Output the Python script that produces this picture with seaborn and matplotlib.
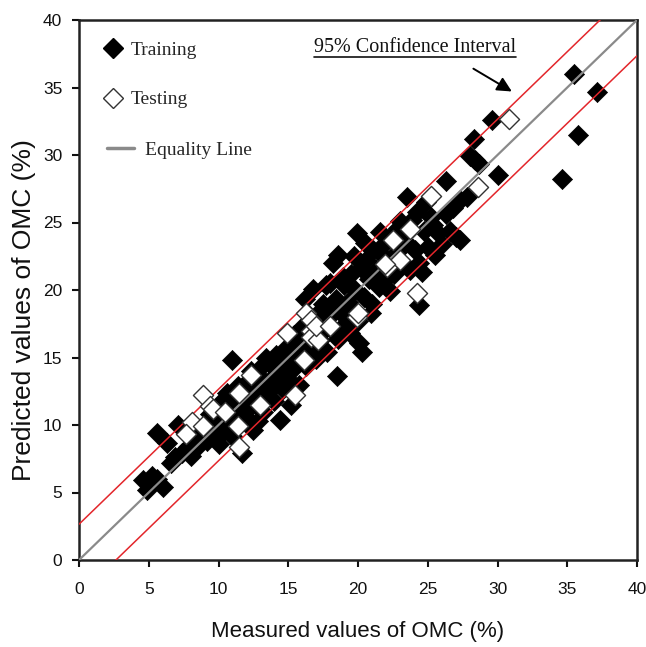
import matplotlib
matplotlib.use("Agg")
import matplotlib.pyplot as plt
from matplotlib.lines import Line2D
import seaborn as sns
import pandas as pd

sns.set_style("white")
plt.rcParams['font.family'] = ['Liberation Sans', 'DejaVu Sans']

# ---------------- data ----------------
train_measured = [
    4.6, 4.85, 5.2, 5.6, 6.0, 5.6, 6.3, 6.9, 7.1, 6.6, 7.4, 7.8, 8.0, 8.3, 8.6, 8.9, 9.2, 9.5, 9.8, 9.9,
    10.2, 10.4, 10.1, 10.7, 10.9, 11.0, 11.3, 11.2, 11.5, 11.7, 11.8, 12.0, 12.2, 12.5, 12.4, 12.7, 12.9, 13.0, 13.2, 13.3,
    13.5, 13.6, 13.8, 14.0, 14.1, 14.3, 14.4, 14.6, 14.7, 14.9, 15.0, 15.2, 15.3, 15.5, 15.6, 15.8, 15.9, 16.1, 16.2, 16.3,
    16.5, 16.6, 16.8, 16.8, 17.0, 17.2, 17.3, 17.5, 17.6, 17.8, 17.9, 18.0, 18.2, 18.2, 18.4, 18.5, 18.6, 18.6, 18.8, 19.0,
    19.1, 19.3, 19.5, 19.6, 19.8, 19.9, 20.0, 20.1, 20.2, 20.3, 20.4, 20.6, 20.8, 21.0, 21.1, 21.3, 21.5, 21.7, 21.9, 22.0,
    22.2, 22.4, 22.6, 22.8, 23.0, 23.2, 23.4, 23.5, 23.7, 23.9, 24.1, 24.4, 24.4, 24.6, 24.7, 25.0, 25.2, 25.5, 25.7, 26.0,
    26.3, 26.3, 26.6, 26.8, 27.0, 27.3, 27.3, 27.8, 28.0, 28.3, 28.4, 28.7, 29.6, 30.0, 34.6, 35.5, 35.8, 37.1,
    9.0, 9.4, 10.0, 10.6, 11.0, 11.4, 11.9, 12.3, 12.8, 13.1, 13.4, 13.9, 14.2, 14.8, 15.4, 15.1, 16.0, 16.4, 16.9, 17.4,
    17.7, 18.1, 18.9, 19.4, 19.7, 20.5, 20.9, 21.6, 22.3, 22.9, 23.6, 24.2, 24.9, 25.4,
]
train_predicted = [
    5.9, 5.2, 6.2, 6.0, 5.4, 9.4, 8.7, 7.6, 10.0, 7.2, 7.9, 8.4, 7.7, 9.1, 8.5, 9.3, 8.8, 9.6, 9.0, 10.4,
    9.4, 10.8, 11.6, 10.1, 11.3, 14.8, 10.9, 12.3, 11.7, 7.9, 13.0, 10.6, 12.1, 9.6, 13.4, 11.5, 12.7, 14.2, 11.0, 13.2,
    12.0, 14.6, 13.5, 11.8, 15.2, 13.9, 10.4, 12.7, 14.5, 15.8, 13.4, 11.5, 16.0, 14.3, 15.1, 13.0, 17.2, 15.6, 19.3, 14.4,
    16.8, 15.2, 20.1, 17.6, 14.9, 18.4, 16.3, 19.0, 17.1, 15.4, 18.0, 20.5, 22.0, 17.0, 19.3, 13.6, 22.6, 16.4, 18.3, 20.4,
    17.5, 19.1, 21.2, 18.6, 20.0, 24.2, 17.7, 16.1, 21.6, 15.4, 19.5, 22.2, 20.8, 19.0, 23.0, 21.5, 20.2, 22.6, 23.5, 20.9,
    22.0, 24.0, 21.2, 22.8, 25.1, 22.0, 23.6, 26.9, 21.5, 25.2, 23.0, 22.0, 18.9, 21.3, 24.4, 23.2, 25.4, 22.6, 24.2, 23.4,
    28.1, 25.6, 24.4, 26.1, 23.9, 26.7, 23.7, 26.9, 29.9, 31.2, 29.6, 29.3, 32.6, 28.5, 28.2, 36.0, 31.5, 34.7,
    10.0, 10.8, 8.6, 12.4, 9.2, 12.9, 11.0, 14.0, 10.3, 12.4, 15.0, 12.8, 14.7, 13.0, 16.7, 14.8, 16.4, 18.2, 16.0, 17.8,
    20.4, 18.7, 21.0, 16.8, 22.5, 23.5, 18.3, 24.3, 19.9, 24.6, 24.3, 25.8, 26.5, 24.8,
]
test_measured = [
    8.1, 8.9, 8.9, 9.4, 9.6, 11.4, 11.5, 11.5, 12.3, 15.5, 16.1, 16.3, 14.9, 16.6, 16.6, 17.1, 16.6, 17.0, 19.9, 20.0,
    22.5, 22.1, 23.0, 21.9, 23.7, 24.2, 25.2, 28.6, 30.8, 13.0, 10.5, 18.0, 7.7,
]
test_predicted = [
    10.2, 9.9, 12.2, 11.4, 11.2, 9.9, 8.4, 12.4, 13.7, 12.2, 14.8, 18.3, 16.8, 17.0, 16.5, 16.3, 17.8, 17.3, 18.0, 18.3,
    23.7, 21.7, 22.2, 21.9, 24.5, 19.8, 27.0, 27.6, 32.7, 11.5, 11.0, 17.3, 9.3,
]
axis_limits = [0, 40]
ticks = [0, 5, 10, 15, 20, 25, 30, 35, 40]
ci_half_width = 2.65
arrow_tail = (28.1, 36.5)
arrow_head = (31.2, 34.6)

train_df = pd.DataFrame({"measured": train_measured, "predicted": train_predicted})
test_df = pd.DataFrame({"measured": test_measured, "predicted": test_predicted})

# ---------------- figure ----------------
W, H = 646, 647
fig = plt.figure(figsize=(W / 100, H / 100), dpi=100)
ax = fig.add_axes([79 / W, 1 - 560 / H, 558 / W, 540 / H])

# equality and confidence lines
ax.plot(axis_limits, axis_limits, color="#8a8a8a", lw=1.6, zorder=4)
ax.plot([axis_limits[0], axis_limits[1]],
        [axis_limits[0] + ci_half_width, axis_limits[1] + ci_half_width],
        color="#e3262b", lw=1.1, zorder=4)
ax.plot([axis_limits[0], axis_limits[1]],
        [axis_limits[0] - ci_half_width, axis_limits[1] - ci_half_width],
        color="#e3262b", lw=1.1, zorder=4)

sns.scatterplot(data=train_df, x="measured", y="predicted", marker="D", s=105,
                color="black", edgecolor="black", linewidth=0.5, ax=ax, zorder=3,
                legend=False)
sns.scatterplot(data=test_df, x="measured", y="predicted", marker="D", s=105,
                facecolor="white", edgecolor="#333333", linewidth=1.0, ax=ax, zorder=5,
                legend=False)

ax.set_xlim(axis_limits)
ax.set_ylim(axis_limits)
ax.set_xticks(ticks)
ax.set_yticks(ticks)
ax.tick_params(axis="both", which="major", direction="out", length=5, width=1.5,
               labelsize=12.5, colors="#111111", bottom=True, left=True)
ax.tick_params(axis="x", pad=11)
ax.tick_params(axis="y", pad=7)
for sp in ax.spines.values():
    sp.set_visible(True)
    sp.set_linewidth(1.8)
    sp.set_color("#222222")

ax.set_xlabel("Measured values of OMC (%)", fontsize=16, labelpad=17, color="#111111")
ax.set_ylabel("Predicted values of OMC (%)", fontsize=19, color="#111111")
ax.yaxis.set_label_coords((36 - 79) / 558, (560 - 310) / 540)

# legend
leg_font = {"family": "Liberation Serif", "size": 14}
handles_a = [
    Line2D([], [], marker="D", color="black", linestyle="none", markersize=10),
    Line2D([], [], marker="D", markerfacecolor="white", markeredgecolor="#333333",
           markeredgewidth=1.0, linestyle="none", markersize=10),
]
leg_a = ax.legend(handles_a, ["Training", "Testing"], loc="upper left",
                  bbox_to_anchor=((103 - 79) / 558, 1 - (41 - 20) / 540), frameon=False,
                  prop=leg_font, labelspacing=1.66, handlelength=1.0, handletextpad=0.4,
                  borderpad=0, borderaxespad=0)
ax.add_artist(leg_a)
handles_b = [Line2D([], [], color="#8a8a8a", lw=2.5)]
ax.legend(handles_b, ["Equality Line"], loc="upper left",
          bbox_to_anchor=((107 - 79) / 558, 1 - (141 - 20) / 540), frameon=False,
          prop=leg_font, handlelength=1.4, handletextpad=0.55,
          borderpad=0, borderaxespad=0)

# confidence interval annotation
txt = ax.text(24.1, 38.0, "95% Confidence Interval", ha="center", va="center",
              fontsize=14.5, family="Liberation Serif", color="#111111")
ax.annotate("", xy=arrow_head, xytext=arrow_tail,
            arrowprops=dict(arrowstyle="-|>", color="black", lw=1.4, mutation_scale=22))

fig.canvas.draw()
bb = txt.get_window_extent()
y_under = bb.y0 + 0
fig.add_artist(Line2D([bb.x0 / W, bb.x1 / W], [y_under / H, y_under / H],
                      color="#111111", lw=1.2))

fig.savefig("out.png", dpi=100)
